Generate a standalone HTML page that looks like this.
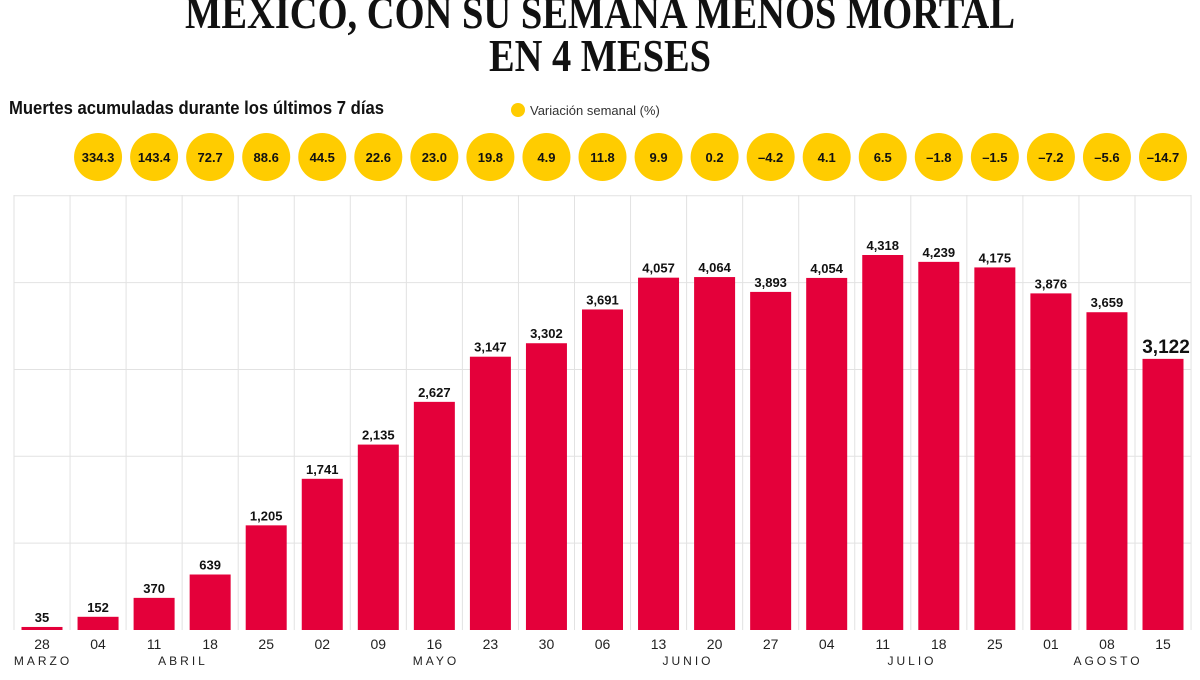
<!DOCTYPE html>
<html><head><meta charset="utf-8"><style>
body{margin:0;background:#fff;width:1200px;height:675px;overflow:hidden;font-family:"Liberation Sans",sans-serif}
</style></head><body>
<svg width="1200" height="675" viewBox="0 0 1200 675" xmlns="http://www.w3.org/2000/svg">
<g font-family="Liberation Serif,serif" font-weight="bold" font-size="46" text-anchor="middle" fill="#111">
<text x="600" y="28" textLength="830" lengthAdjust="spacingAndGlyphs">MÉXICO, CON SU SEMANA MENOS MORTAL</text>
<text x="600" y="71" textLength="222" lengthAdjust="spacingAndGlyphs">EN 4 MESES</text>
</g>
<text x="9" y="114" font-size="18" font-weight="bold" fill="#111" textLength="375" lengthAdjust="spacingAndGlyphs">Muertes acumuladas durante los últimos 7 días</text>
<circle cx="518" cy="110" r="7" fill="#FFCC00"/>
<text x="530" y="115" font-size="13" fill="#333">Variación semanal (%)</text>
<g id="g"></g>
</svg>
<script>
const vals=[35,152,370,639,1205,1741,2135,2627,3147,3302,3691,4057,4064,3893,4054,4318,4239,4175,3876,3659,3122];
const pct=["334.3","143.4","72.7","88.6","44.5","22.6","23.0","19.8","4.9","11.8","9.9","0.2","-4.2","4.1","6.5","-1.8","-1.5","-7.2","-5.6","-14.7"];
const days=["28","04","11","18","25","02","09","16","23","30","06","13","20","27","04","11","18","25","01","08","15"];
const g=document.getElementById('g');let s='';
const L=14,W=56.05,base=630,k=375/4318;
for(let i=0;i<=21;i++){const x=L+W*i;s+=`<line x1="${x}" y1="195" x2="${x}" y2="${base}" stroke="#e2e2e2" stroke-width="1"/>`;}
for(let j=1;j<=5;j++){const y=base-j*1000*k;s+=`<line x1="${L}" y1="${y}" x2="${L+W*21}" y2="${y}" stroke="#e2e2e2" stroke-width="1"/>`;}
for(let i=0;i<21;i++){const c=L+W*i+28;const h=vals[i]*k;
s+=`<rect x="${c-20.5}" y="${base-h}" width="41" height="${h}" fill="#E4003A"/>`;
const last=i==20;
s+=`<text x="${c+(last?3:0)}" y="${base-h-(last?6:5)}" text-anchor="middle" font-weight="bold" font-size="${last?19:13}" fill="#111">${vals[i].toLocaleString('en-US')}</text>`;
s+=`<text x="${c}" y="649" text-anchor="middle" font-size="14" fill="#222">${days[i]}</text>`;
if(i<20){const cc=L+W*(i+1)+28;s+=`<circle cx="${cc}" cy="157" r="24" fill="#FFCC00"/><text x="${cc}" y="162" text-anchor="middle" font-weight="bold" font-size="13" fill="#111">${pct[i].replace('-','–')}</text>`;}
}
const m=[["MARZO",43],["ABRIL",183],["MAYO",436],["JUNIO",688],["JULIO",912],["AGOSTO",1108]];
m.forEach(a=>{s+=`<text x="${a[1]}" y="665" text-anchor="middle" font-size="12" letter-spacing="3" fill="#222">${a[0]}</text>`});
g.innerHTML=s;
</script>
</body></html>
